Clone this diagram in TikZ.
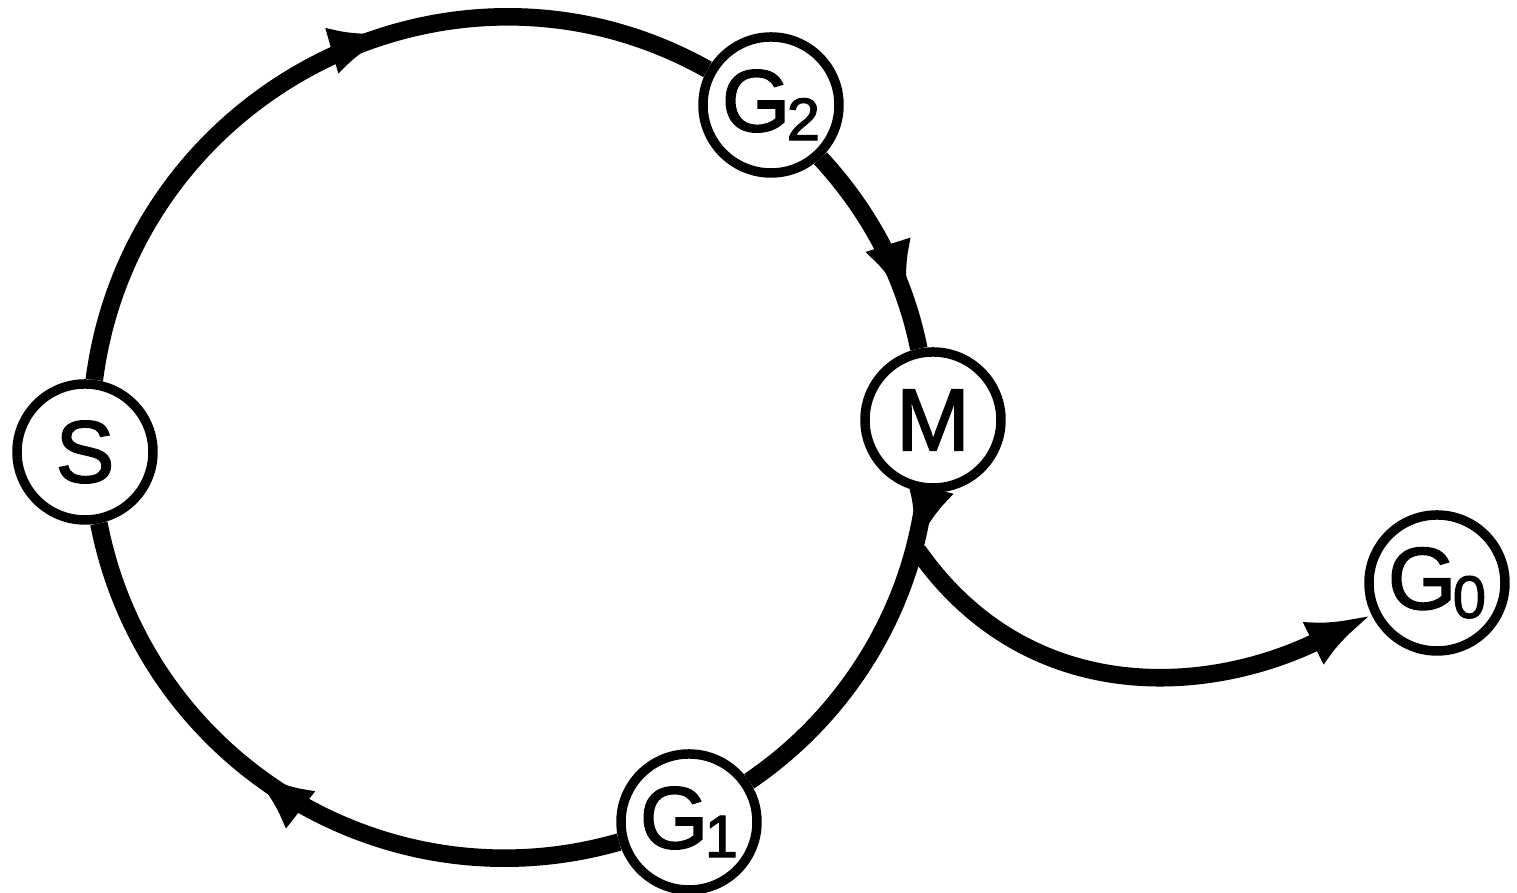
\documentclass[tikz,border=0pt]{standalone}
\usepackage{fontspec}
\setmainfont{Liberation Sans}
\newfontfamily\phfont{Liberation Sans}[BoldFont={Liberation Sans}, BoldFeatures={FakeBold=2}]
\usetikzlibrary{arrows.meta,decorations.markings}
\newcommand{\phsub}[1]{\kern-0.04em\raisebox{-0.1em}{\fontsize{17}{17}\selectfont #1}}
\begin{document}
\begin{tikzpicture}[
  phase/.style={circle, draw, line width=2.7pt, fill=white, minimum size=1.36cm, inner sep=0pt, font=\phfont\bfseries\fontsize{25}{25}\selectfont},
  flow/.style={line width=5pt},
  head/.style={postaction={decorate}, decoration={markings, mark=at position #1 with {\arrow{Latex[length=6.5mm,width=4.8mm]}}}}
]
\useasboundingbox (0,0) rectangle (15.17,8.93);
\node[phase] (S)  at (0.85,4.41) {S};
\node[phase] (G2) at (7.71,7.88) {G\phsub{2}};
\node[phase] (M)  at (9.33,4.73) {M};
\node[phase] (G1) at (6.89,0.71) {G\phsub{1}};
\node[phase] (G0) at (14.37,3.10) {G\phsub{0}};
\coordinate (J) at (9.178,3.424);
\draw[flow, head=0.6] (S) to[out=82.8, in=150.9, looseness=1.09] (G2);
\draw[flow, head=0.8] (G2) to[out=-47.3, in=101.5, looseness=0.87] (M);
\draw[flow, head=0.17] (M) to[out=-96.7, in=34.2, looseness=0.89] (G1);
\draw[flow, head=0.57] (G1) to[out=196, in=281, looseness=1.02] (S);
\draw[flow, -{Latex[length=6.5mm,width=4.8mm]}] (J) to[out=-55, in=206, looseness=1.05] (G0);
\end{tikzpicture}
\end{document}
